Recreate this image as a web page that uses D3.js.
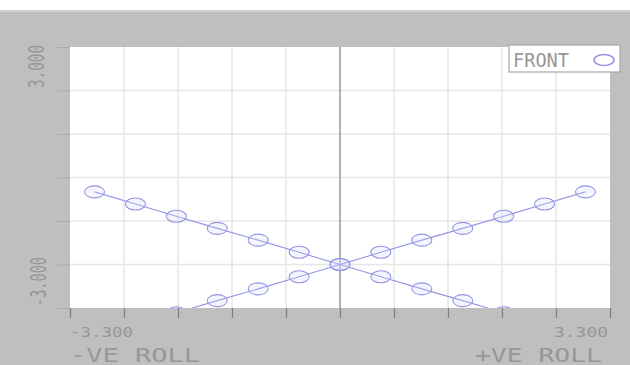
<!DOCTYPE html>
<html>
<head>
<meta charset="utf-8">
<script src="https://cdn.jsdelivr.net/npm/d3@7"></script>
<style>
  html, body { margin: 0; padding: 0; background: #ffffff; }
  svg { display: block; }
  text { font-family: "DejaVu Sans Mono", monospace; fill: #979797; }
</style>
</head>
<body>
<svg id="chart" width="630" height="365"></svg>
<script>
// Roll positions (x) and the two traced responses
const rollX = [-3, -2.5, -2, -1.5, -1, -0.5, 0, 0.5, 1, 1.5, 2, 2.5, 3];
const negRollSeries = [-0.33, -0.61, -0.89, -1.17, -1.44, -1.72, -2.00, -2.28, -2.56, -2.83, -3.11, -3.39, -3.67];
const posRollSeries = [-3.67, -3.39, -3.11, -2.83, -2.56, -2.28, -2.00, -1.72, -1.44, -1.17, -0.89, -0.61, -0.33];

const xDomain = [-3.3, 3.3];
const yDomain = [-3, 3];
const xTickLabels = ["-3.300", "3.300"];
const yTickLabels = ["3.000", "-3.000"];
const axisTitles = ["-VE ROLL", "+VE ROLL"];
const legendLabel = "FRONT";

const svg = d3.select("#chart");
const W = 630, H = 365;
const plot = { left: 70, right: 610, top: 47, bottom: 308 };

const x = d3.scaleLinear().domain(xDomain).range([plot.left, plot.right]);
const y = d3.scaleLinear().domain(yDomain).range([plot.bottom, plot.top]);

// Panel background
svg.append("rect").attr("x", 0).attr("y", 10).attr("width", W).attr("height", H - 10).attr("fill", "#bfbfbf");
svg.append("rect").attr("x", 0).attr("y", 10).attr("width", W).attr("height", 2).attr("fill", "#d0d0d0");

// Plot area
svg.append("rect")
  .attr("x", plot.left).attr("y", plot.top)
  .attr("width", plot.right - plot.left).attr("height", plot.bottom - plot.top)
  .attr("fill", "#ffffff");

const xTicks = d3.range(11).map(i => xDomain[0] + i * (xDomain[1] - xDomain[0]) / 10);
const yTicks = d3.range(7).map(i => yDomain[0] + i);

// Grid
const grid = svg.append("g");
grid.selectAll("line.h").data(yTicks.slice(1, -1)).join("line")
  .attr("x1", plot.left).attr("x2", plot.right)
  .attr("y1", d => y(d)).attr("y2", d => y(d))
  .attr("stroke", "#e6e6e6").attr("stroke-width", 1.5);
grid.selectAll("line.v").data(xTicks.slice(1, -1)).join("line")
  .attr("y1", plot.top).attr("y2", plot.bottom)
  .attr("x1", d => x(d)).attr("x2", d => x(d))
  .attr("stroke", d => Math.abs(d) < 1e-9 ? "#8f8f8f" : "#e6e6e6")
  .attr("stroke-width", d => Math.abs(d) < 1e-9 ? 1.4 : 1.5);

// Axis ticks via d3 axes
const xAxis = d3.axisBottom(x).tickValues(xTicks).tickSize(10).tickFormat("");
const gx = svg.append("g").attr("transform", `translate(0,${plot.bottom})`).call(xAxis);
gx.select(".domain").remove();
gx.selectAll(".tick line").attr("stroke", "#7f7f7f").attr("stroke-width", 1.2);

const yAxis = d3.axisLeft(y).tickValues(yTicks).tickSize(13).tickFormat("");
const gy = svg.append("g").attr("transform", `translate(${plot.left},0)`).call(yAxis);
gy.select(".domain").remove();
gy.selectAll(".tick line").attr("stroke", "#aaaaaa").attr("stroke-width", 1);

// Data series, clipped to the plot frame
svg.append("clipPath").attr("id", "plotClip")
  .append("rect")
  .attr("x", plot.left).attr("y", plot.top)
  .attr("width", plot.right - plot.left).attr("height", plot.bottom - plot.top);

const seriesColor = "#9393e4";
const line = d3.line().x(d => x(d[0])).y(d => y(d[1]));
const dataLayer = svg.append("g").attr("clip-path", "url(#plotClip)");

[negRollSeries, posRollSeries].forEach(series => {
  const pts = rollX.map((v, i) => [v, series[i]]);
  dataLayer.append("path")
    .attr("d", line(pts))
    .attr("fill", "none")
    .attr("stroke", seriesColor)
    .attr("stroke-width", 1.1);
  dataLayer.selectAll(null).data(pts).join("ellipse")
    .attr("cx", d => x(d[0])).attr("cy", d => y(d[1]))
    .attr("rx", 10).attr("ry", 6)
    .attr("fill", "rgba(215,215,255,0.25)")
    .attr("stroke", seriesColor)
    .attr("stroke-width", 1.1);
});

// Axis end labels
svg.append("text").text(xTickLabels[0])
  .attr("x", x(xDomain[0])).attr("y", 337)
  .attr("font-size", 14).attr("textLength", 63).attr("lengthAdjust", "spacingAndGlyphs");
svg.append("text").text(xTickLabels[1])
  .attr("x", x(xDomain[1]) - 56).attr("y", 337)
  .attr("font-size", 14).attr("textLength", 54).attr("lengthAdjust", "spacingAndGlyphs");

svg.append("text").text(yTickLabels[0])
  .attr("transform", `translate(44,${y(yDomain[1]) + 41}) rotate(-90)`)
  .attr("font-size", 21).attr("textLength", 43).attr("lengthAdjust", "spacingAndGlyphs");
svg.append("text").text(yTickLabels[1])
  .attr("transform", `translate(46,${y(yDomain[0]) - 2}) rotate(-90)`)
  .attr("font-size", 21).attr("textLength", 49).attr("lengthAdjust", "spacingAndGlyphs");

// Axis titles
svg.append("text").text(axisTitles[0])
  .attr("x", plot.left).attr("y", 362)
  .attr("font-size", 19).attr("textLength", 130).attr("lengthAdjust", "spacingAndGlyphs");
svg.append("text").text(axisTitles[1])
  .attr("x", 475).attr("y", 362)
  .attr("font-size", 19).attr("textLength", 127).attr("lengthAdjust", "spacingAndGlyphs");

// Legend
const lg = svg.append("g");
lg.append("rect").attr("x", 509).attr("y", 45).attr("width", 111).attr("height", 27)
  .attr("fill", "#ffffff").attr("stroke", "#a8a8a8").attr("stroke-width", 1.2);
lg.append("text").text(legendLabel)
  .attr("x", 513).attr("y", 67)
  .attr("font-size", 20).attr("textLength", 56).attr("lengthAdjust", "spacingAndGlyphs");
lg.append("ellipse").attr("cx", 604).attr("cy", 60).attr("rx", 10).attr("ry", 5.5)
  .attr("fill", "none").attr("stroke", seriesColor).attr("stroke-width", 1.6);
</script>
</body>
</html>
